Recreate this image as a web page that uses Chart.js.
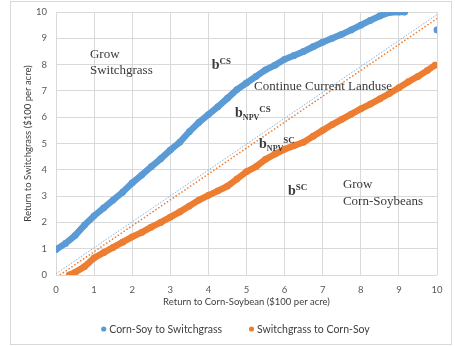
<!DOCTYPE html>
<html>
<head>
<meta charset="utf-8">
<script src="https://cdn.jsdelivr.net/npm/chart.js@4.4.1/dist/chart.umd.min.js"></script>
<style>
  html, body { margin: 0; padding: 0; background: #fff; }
  #wrap { width: 455px; height: 346px; position: relative; }
</style>
</head>
<body>
<div id="wrap"><canvas id="myChart" width="455" height="346"></canvas></div>
<script>
// Corn-Soy -> Switchgrass boundary (x = corn-soy return, y = switchgrass return)
const csX = [0, 0.25, 0.5, 0.75, 1, 1.25, 1.5, 1.75, 2, 2.25, 2.5, 2.75, 3, 3.25, 3.5, 3.75, 4, 4.25, 4.5, 4.75,
  5, 5.25, 5.5, 5.75, 6, 6.25, 6.5, 6.75, 7, 7.25, 7.5, 7.75, 8, 8.25, 8.5, 8.75, 9, 9.15, 9.5, 10];
const csY = [0.97, 1.2, 1.5, 1.9, 2.25, 2.55, 2.85, 3.15, 3.5, 3.8, 4.12, 4.42, 4.75, 5.05, 5.45, 5.8, 6.1, 6.4, 6.72, 7.05,
  7.3, 7.55, 7.8, 7.98, 8.2, 8.35, 8.5, 8.68, 8.85, 9.0, 9.15, 9.32, 9.5, 9.68, 9.85, 9.98, 10, 10, null, 9.32];

// Switchgrass -> Corn-Soy boundary
const scX = [0.35, 0.5, 0.75, 1, 1.25, 1.5, 1.75, 2, 2.25, 2.5, 2.75, 3, 3.25, 3.5, 3.75, 4, 4.25, 4.5, 4.75,
  5, 5.25, 5.5, 5.75, 6, 6.25, 6.5, 6.75, 7, 7.25, 7.5, 7.75, 8, 8.25, 8.5, 8.75, 9, 9.25, 9.5, 9.75, 9.95];
const scY = [0, 0.1, 0.32, 0.65, 0.85, 1.05, 1.25, 1.45, 1.62, 1.82, 2.0, 2.2, 2.4, 2.62, 2.85, 3.03, 3.2, 3.38, 3.65,
  3.93, 4.12, 4.4, 4.6, 4.78, 4.92, 5.05, 5.28, 5.5, 5.72, 5.92, 6.12, 6.32, 6.5, 6.7, 6.9, 7.12, 7.35, 7.55, 7.78, 7.98];

// NPV break-even lines (dotted)
const npvCsX = [0, 10];
const npvCsY = [0.05, 9.9];
const npvScX = [0.1, 10];
const npvScY = [0, 9.75];

const seriesNames = ["Corn-Soy to Switchgrass", "Switchgrass to Corn-Soy"];

const BLUE = "#5b9bd5";
const ORANGE = "#ed7d31";

const toPoints = (xs, ys) => xs.map((x, i) => ({ x: x, y: ys[i] }));

// region labels, placed in data units
const notes = [
  { x: 0.89, y: 8.4, text: "Grow" },
  { x: 0.89, y: 7.79, text: "Switchgrass" },
  { x: 5.2, y: 7.15, text: "Continue Current Landuse" },
  { x: 7.53, y: 3.42, text: "Grow" },
  { x: 7.53, y: 2.78, text: "Corn-Soybeans" }
];
const bLabels = [
  { x: 4.09, y: 7.83, sub: "", sup: "CS" },
  { x: 4.7, y: 6.01, sub: "NPV", sup: "CS" },
  { x: 5.33, y: 4.83, sub: "NPV", sup: "SC" },
  { x: 6.09, y: 3.04, sub: "", sup: "SC" }
];

const labelPlugin = {
  id: "labels",
  afterDatasetsDraw(chart) {
    const c = chart.ctx;
    const sx = chart.scales.x, sy = chart.scales.y;
    c.save();
    c.fillStyle = "#3a3a3a";
    c.textBaseline = "middle";
    c.textAlign = "left";
    c.font = "13px 'Liberation Serif'";
    notes.forEach(n => {
      c.fillText(n.text, sx.getPixelForValue(n.x), sy.getPixelForValue(n.y));
    });

    c.textBaseline = "alphabetic";
    bLabels.forEach(b => {
      let px = sx.getPixelForValue(b.x);
      const py = sy.getPixelForValue(b.y);
      c.font = "bold 14px 'Liberation Serif'";
      c.fillText("b", px, py);
      px += c.measureText("b").width;
      if (b.sub) {
        c.font = "bold 8px 'Liberation Serif'";
        c.fillText(b.sub, px, py + 3);
        px += c.measureText(b.sub).width;
      }
      c.font = "bold 9px 'Liberation Serif'";
      c.fillText(b.sup, px, py - 5);
    });

    // legend under the x axis title
    c.font = "10.5px Lato";
    c.textBaseline = "middle";
    const gap = 28;
    const items = chart.data.datasets.slice(0, 2).map(d => ({
      color: d.backgroundColor,
      text: d.label,
      w: 7 + c.measureText(d.label).width
    }));
    const total = items.reduce((s, it) => s + it.w, 0) + gap;
    let lx = 235 - total / 2;
    const ly = 329;
    items.forEach(it => {
      c.fillStyle = it.color;
      c.beginPath();
      c.arc(lx + 2.5, ly, 2.6, 0, Math.PI * 2);
      c.fill();
      c.fillStyle = "#404040";
      c.fillText(it.text, lx + 8, ly + 0.5);
      lx += it.w + gap;
    });

    // outer frame
    c.strokeStyle = "#d9d9d9";
    c.lineWidth = 1;
    c.strokeRect(10.5, 1.5, 441, 343);
    c.restore();
  }
};

const ctx = document.getElementById("myChart").getContext("2d");

const chart = new Chart(ctx, {
  type: "scatter",
  data: {
    datasets: [
      {
        label: seriesNames[0],
        data: toPoints(csX, csY),
        showLine: true,
        spanGaps: false,
        borderColor: BLUE,
        backgroundColor: BLUE,
        borderWidth: 6.5,
        pointRadius: 3.4,
        pointBorderWidth: 0,
        borderCapStyle: "round",
        order: 1
      },
      {
        label: seriesNames[1],
        data: toPoints(scX, scY),
        showLine: true,
        borderColor: ORANGE,
        backgroundColor: ORANGE,
        borderWidth: 6.5,
        pointRadius: 3.4,
        pointBorderWidth: 0,
        borderCapStyle: "round",
        order: 1
      },
      {
        label: "npvCS",
        data: toPoints(npvCsX, npvCsY),
        showLine: true,
        borderColor: "#7fb2e3",
        borderWidth: 1,
        borderDash: [1.5, 1.5],
        pointRadius: 0,
        order: 2
      },
      {
        label: "npvSC",
        data: toPoints(npvScX, npvScY),
        showLine: true,
        borderColor: ORANGE,
        borderWidth: 1.5,
        borderDash: [1.5, 2],
        pointRadius: 0,
        order: 2
      }
    ]
  },
  options: {
    responsive: false,
    animation: false,
    layout: { padding: { left: 18, right: 18, top: 12, bottom: 38 } },
    scales: {
      x: {
        min: 0,
        max: 10,
        afterFit: s => { s.height = 33; },
        ticks: { stepSize: 1, color: "#595959", font: { family: "Lato", size: 9.5 }, padding: 9, maxRotation: 0 },
        grid: { color: "#d9d9d9", drawTicks: false },
        border: { display: false },
        title: {
          display: true,
          text: "Return to Corn-Soybean ($100 per acre)",
          color: "#404040",
          font: { family: "Lato", size: 9.5 },
          padding: { top: 0, bottom: 0 }
        }
      },
      y: {
        min: 0,
        max: 10,
        // fixed width, and no extra room above for the top tick label
        afterFit: s => { s.width = 38; s.paddingTop = 0; s.paddingBottom = 0; },
        ticks: { stepSize: 1, color: "#595959", font: { family: "Lato", size: 9.5 }, padding: 9 },
        grid: { color: "#d9d9d9", drawTicks: false },
        border: { display: false },
        title: {
          display: true,
          text: "Return to Switchgrass ($100 per acre)",
          color: "#404040",
          font: { family: "Lato", size: 9.5 },
          padding: { top: 4, bottom: 0 }
        }
      }
    },
    plugins: {
      tooltip: { enabled: false },
      legend: { display: false }
    }
  },
  plugins: [labelPlugin]
});
</script>
</body>
</html>
